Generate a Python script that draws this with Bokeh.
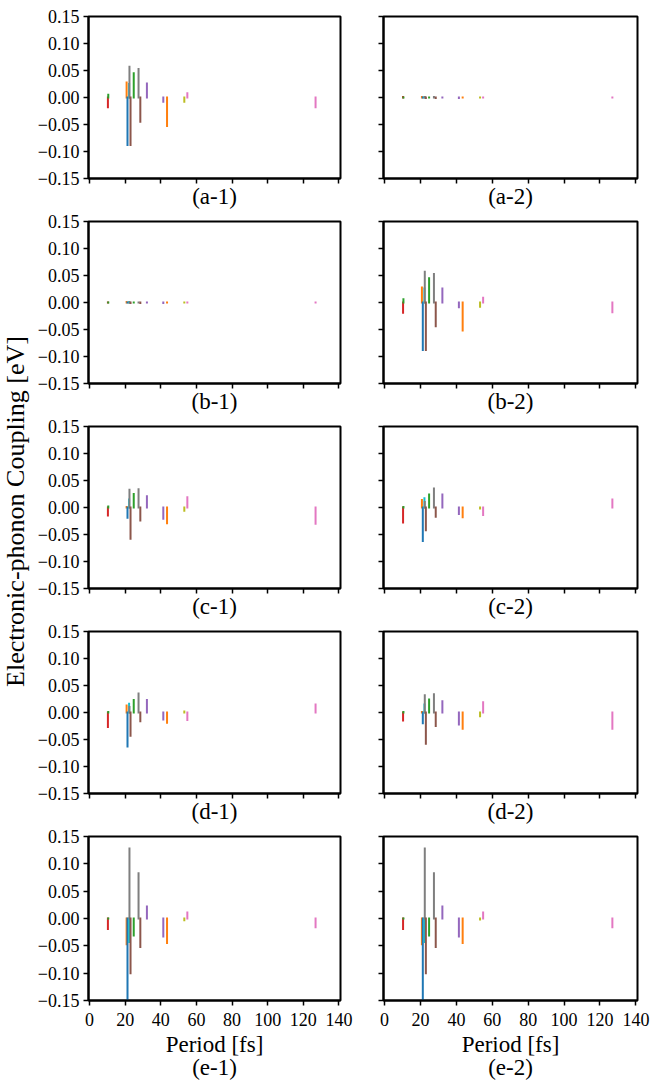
import numpy as np
from bokeh.plotting import figure
from bokeh.models import Range1d, FixedTicker, CustomJSTickFormatter, Label, ColumnDataSource
from bokeh.layouts import gridplot, row
from bokeh.embed import file_html
from bokeh.resources import INLINE

FONT = "Liberation Serif"

# ---------------- data ----------------
periods = [10.3, 10.5, 20.8, 21.3, 22.2, 22.4, 23.0, 24.8, 27.5, 28.5,
           32.2, 41.4, 43.5, 53.2, 54.9, 126.9]

coupling_a1 = [-0.018, 0.005, 0.028, -0.088, 0.025, 0.057, -0.088, 0.045, 0.053, -0.045,
               0.026, -0.008, -0.053, -0.008, 0.008, -0.018]
coupling_a2 = [0.001, 0.0, 0.001, 0.0, 0.001, 0.001, -0.001, 0.0, 0.001, -0.001,
               0.0, -0.001, 0.0, 0.0, 0.0, 0.0]
coupling_b1 = [0.0, 0.0, 0.001, 0.0, 0.001, 0.0, -0.001, 0.0, 0.0, -0.001,
               0.0, -0.001, 0.0, 0.0, 0.0, 0.0]
coupling_b2 = [-0.019, 0.006, 0.028, -0.088, 0.026, 0.057, -0.088, 0.045, 0.053, -0.044,
               0.026, -0.009, -0.052, -0.008, 0.009, -0.018]
coupling_c1 = [-0.015, 0.002, 0.001, -0.019, 0.015, 0.033, -0.058, 0.025, 0.034, -0.024,
               0.021, -0.021, -0.029, -0.006, 0.019, -0.030]
coupling_c2 = [-0.028, 0.001, 0.014, -0.062, 0.017, 0.010, -0.042, 0.024, 0.035, -0.017,
               0.024, -0.012, -0.018, -0.002, -0.014, 0.015]
coupling_d1 = [-0.027, 0.001, 0.013, -0.063, 0.016, 0.010, -0.043, 0.023, 0.035, -0.016,
               0.023, -0.013, -0.019, 0.002, -0.014, 0.015]
coupling_d2 = [-0.015, 0.001, 0.001, -0.020, 0.015, 0.032, -0.058, 0.024, 0.034, -0.025,
               0.021, -0.022, -0.030, -0.007, 0.019, -0.030]
coupling_e1 = [-0.019, 0.0, -0.047, -0.175, -0.043, 0.128, -0.100, -0.031, 0.083, -0.052,
               0.022, -0.033, -0.045, -0.003, 0.011, -0.016]
coupling_e2 = [-0.019, 0.0, -0.047, -0.175, -0.043, 0.128, -0.100, -0.031, 0.083, -0.052,
               0.022, -0.033, -0.045, -0.002, 0.011, -0.016]

panel_labels = [["(a-1)", "(a-2)"], ["(b-1)", "(b-2)"], ["(c-1)", "(c-2)"],
                ["(d-1)", "(d-2)"], ["(e-1)", "(e-2)"]]
panel_values = [[coupling_a1, coupling_a2], [coupling_b1, coupling_b2],
                [coupling_c1, coupling_c2], [coupling_d1, coupling_d2],
                [coupling_e1, coupling_e2]]

x_ticks = [0, 20, 40, 60, 80, 100, 120, 140]
y_ticks = [-0.15, -0.10, -0.05, 0.0, 0.05, 0.10, 0.15]
x_label = "Period [fs]"
y_label = "Electronic-phonon Coupling [eV]"

# ---------------- styles ----------------
mode_colors = ["#d62728", "#2ca02c", "#ff7f0e", "#1f77b4", "#17becf", "#7f7f7f",
               "#8c564b", "#2ca02c", "#7f7f7f", "#8c564b", "#9467bd", "#9467bd",
               "#ff7f0e", "#bcbd22", "#e377c2", "#e377c2"]

LBL = "23px"
YLBL = "26px"
TICK = "18px"
FRAME_H = 164
TOPS = [16, 10, 10, 10, 10]
BOTTOM = 31
BOTTOM_LAST = 86
YLAB_W = 30

y_fmt_code = "return (tick < -1e-9 ? '\\u2212' : '') + Math.abs(tick).toFixed(2);"
empty_code = "return '';"


def make_panel(values, caption, is_left, row_idx):
    is_bottom = row_idx == 4
    top = TOPS[row_idx]
    bottom = BOTTOM_LAST if is_bottom else BOTTOM
    left_b = 88 - YLAB_W if is_left else 29
    right_b = 14 if is_left else 15
    frame_w = 252 if is_left else 254
    w = left_b + frame_w + right_b
    h = top + FRAME_H + bottom
    p = figure(width=w, height=h, x_range=Range1d(-0.6, 140.9),
               y_range=Range1d(-0.15, 0.15), output_backend="svg",
               toolbar_location=None, tools="")
    p.min_border_left = left_b
    p.min_border_right = right_b
    p.min_border_top = top
    p.min_border_bottom = bottom
    p.xgrid.visible = False
    p.ygrid.visible = False
    p.outline_line_color = "black"
    p.outline_line_width = 2
    p.background_fill_color = "white"
    p.border_fill_color = "white"

    src = ColumnDataSource(dict(x=periods, y0=[0.0] * len(periods), y1=values,
                                c=mode_colors))
    p.segment(x0="x", y0="y0", x1="x", y1="y1", source=src, line_color="c",
              line_width=2, line_cap="square")

    for ax in (p.xaxis[0], p.yaxis[0]):
        ax.axis_line_width = 2
        ax.axis_line_color = "black"
        ax.major_tick_line_width = 1.5
        ax.major_tick_line_color = "black"
        ax.major_tick_out = 5
        ax.major_tick_in = 0
        ax.minor_tick_out = 0
        ax.minor_tick_in = 0
        ax.major_label_text_font = FONT
        ax.major_label_text_color = "black"
        ax.axis_label_text_font = FONT
        ax.axis_label_text_font_style = "normal"
        ax.axis_label_text_color = "black"
        ax.axis_label_text_font_size = LBL

    p.xaxis.ticker = FixedTicker(ticks=x_ticks)
    p.yaxis.ticker = FixedTicker(ticks=y_ticks)

    if is_left:
        p.yaxis.formatter = CustomJSTickFormatter(code=y_fmt_code)
        p.yaxis.major_label_text_font_size = TICK
        p.yaxis.major_label_standoff = 4
    else:
        p.yaxis.formatter = CustomJSTickFormatter(code=empty_code)
        p.yaxis.major_label_text_font_size = "0px"
        p.yaxis.major_label_standoff = 0

    if is_bottom:
        p.xaxis.major_label_text_font_size = TICK
        p.xaxis.major_label_standoff = 7
        p.xaxis.axis_label = x_label + "\n" + caption
        p.xaxis.axis_label_text_line_height = 0.95
        p.xaxis.axis_label_standoff = 3
    else:
        p.xaxis.formatter = CustomJSTickFormatter(code=empty_code)
        p.xaxis.major_label_text_font_size = "0px"
        p.xaxis.major_label_standoff = 0
        p.xaxis.axis_label = caption
        p.xaxis.axis_label_text_line_height = 1.0
        p.xaxis.axis_label_standoff = 0
    return p


rows = []
for r in range(5):
    rows.append([make_panel(panel_values[r][c], panel_labels[r][c], c == 0, r)
                 for c in range(2)])

grid = gridplot(rows, toolbar_location=None)

total_h = sum(TOPS) + 5 * FRAME_H + 4 * BOTTOM + BOTTOM_LAST
ylab = figure(width=YLAB_W, height=total_h, x_range=Range1d(0, YLAB_W),
              y_range=Range1d(0, total_h), output_backend="svg",
              toolbar_location=None, tools="", x_axis_type=None, y_axis_type=None)
ylab.min_border_left = 0
ylab.min_border_right = 0
ylab.min_border_top = 0
ylab.min_border_bottom = 0
ylab.outline_line_color = None
ylab.grid.visible = False
ylab.add_layout(Label(x=15, y=total_h - 511, text=y_label, angle=np.pi / 2,
                      text_align="center", text_baseline="middle", text_font=FONT,
                      text_font_size=YLBL, text_color="black"))

layout = row(ylab, grid)

open("out.html", "w").write(file_html(layout, INLINE))
